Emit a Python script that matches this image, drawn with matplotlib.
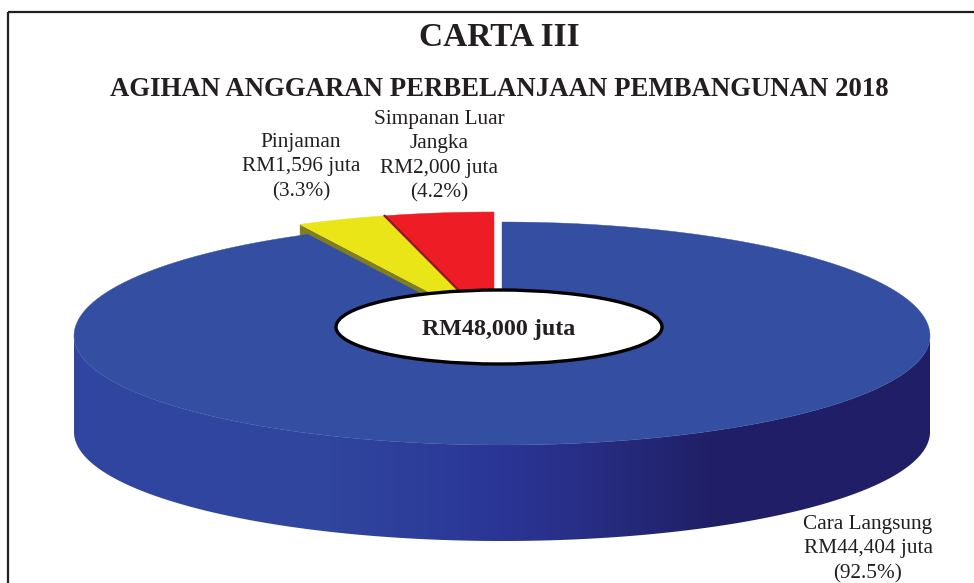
import numpy as np
from matplotlib import pyplot as plt
from matplotlib.patches import Ellipse, Polygon, Rectangle
from matplotlib.colors import LinearSegmentedColormap

labels = ["Simpanan Luar\nJangka\nRM2,000 juta\n(4.2%)",
          "Pinjaman\nRM1,596 juta\n(3.3%)",
          "Cara Langsung\nRM44,404 juta\n(92.5%)"]
values = [2000, 1596, 44404]
total_label = "RM48,000 juta"

plt.rcParams['font.family'] = ['Liberation Serif', 'DejaVu Serif']

fig = plt.figure(figsize=(9.74, 5.83), dpi=100)
ax = fig.add_axes([0, 0, 1, 1])
ax.set_xlim(0, 974)
ax.set_ylim(583, 0)
ax.axis('off')

# geometrie du camembert, en pixels
cx, cy = 502, 336
rx, ry_back, ry_front = 428, 114, 109
depth = 96
off_x, off_y = -8, -10  # decalage des parts sorties

# angles depuis le haut, sens anti-horaire
fracs = np.array(values) / sum(values)
edges = np.concatenate(([0], np.cumsum(fracs))) * 2 * np.pi


def arc(a0, a1, dx=0, dy=0, n=300):
    t = np.linspace(a0, a1, n)
    c = np.cos(t)
    return np.column_stack((cx + dx - rx * np.sin(t), cy + dy - np.where(c > 0, ry_back, ry_front) * c))


# paroi avant : degrade de gauche a droite, decoupe sur la forme de la paroi
wall_cmap = LinearSegmentedColormap.from_list(
    "wall", [(0.0, "#2f46a1"), (0.30, "#30459e"), (0.50, "#2a3596"), (0.62, "#272c80"),
             (0.75, "#201f66"), (1.0, "#1f1e66")])
front = arc(np.pi / 2, 3 * np.pi / 2)
wall = Polygon(np.vstack((front, front[::-1] + [0, depth])), closed=True, fc="none", ec="none")
ax.add_patch(wall)
grad = np.linspace(0, 1, 512).reshape(1, -1)
im = ax.imshow(grad, cmap=wall_cmap, extent=(cx - rx, cx + rx, 583, 0), aspect='auto', zorder=1)
im.set_clip_path(wall)
ax.set_xlim(0, 974)
ax.set_ylim(583, 0)

# face coupee de la part jaune
apex = np.array([cx + off_x, cy + off_y])
p_out = arc(edges[2], edges[2], off_x, off_y, n=1)[0]
cut = np.array([p_out, apex, apex + [0, depth], p_out + [0, depth]])
ax.add_patch(Polygon(cut, closed=True, fc="#7f7f22", ec="none", zorder=2))

# faces superieures
colors = ["#ee1c25", "#e9e517", "#344fa1"]
for i in range(3):
    dx, dy = (off_x, off_y) if i < 2 else (0, 0)
    pts = arc(edges[i], edges[i + 1], dx, dy)
    poly = np.vstack((pts, [[cx + dx, cy + dy]]))
    ax.add_patch(Polygon(poly, closed=True, fc=colors[i], ec=colors[i], lw=0.3, zorder=3))

# ombre sur le bord de la part rouge
p_red = arc(edges[1], edges[1], off_x, off_y, n=1)[0]
ax.plot([p_red[0] + 1.5, apex[0]], [p_red[1], apex[1]], color="#8c1a1c", lw=1.6, zorder=4)

# ellipse centrale
ax.add_patch(Ellipse((499, 327), 326, 74, fc="white", ec="black", lw=2.4, zorder=5))
ax.text(499, 329, total_label, ha='center', va='center', fontsize=17.3, fontweight='bold',
        color="#231f20", zorder=6)

# cadre
ax.add_patch(Rectangle((8, 12), 1000, 700, fill=False, ec="#231f20", lw=1.6, zorder=6))

ax.text(499, 37, "CARTA III", ha='center', va='center', fontsize=24, fontweight='bold', color="#231f20")
ax.text(499, 89, "AGIHAN ANGGARAN PERBELANJAAN PEMBANGUNAN 2018", ha='center', va='center',
        fontsize=19.25, fontweight='bold', color="#231f20")

label_pos = [(439, 156), (301, 167), (868, 549)]
for lab, (x, y) in zip(labels, label_pos):
    ax.text(x, y, lab, ha='center', va='center', fontsize=15.3, color="#231f20", linespacing=1.39)

fig.savefig("out.png", dpi=100)
